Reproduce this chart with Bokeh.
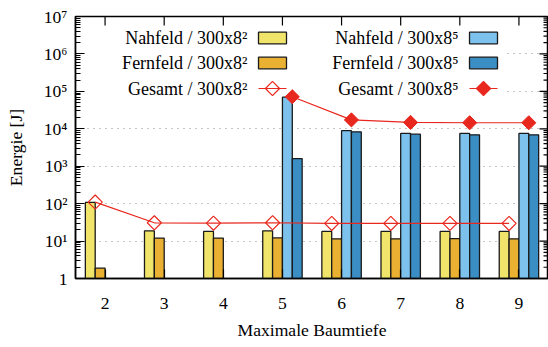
import math
from bokeh.plotting import figure
from bokeh.models import (ColumnDataSource, Range1d, LinearScale, FixedTicker,
                          BoxAnnotation, Title)
from bokeh.transform import dodge
from bokeh.core.properties import value
from bokeh.embed import file_html
from bokeh.resources import INLINE

# ---------------- data ----------------
cats_all = [2, 3, 4, 5, 6, 7, 8, 9]
nah_82 = [108, 18.8, 18.1, 18.8, 18.1, 18.1, 18.1, 18.1]
fern_82 = [1.9, 12.0, 12.0, 12.1, 11.5, 11.5, 11.6, 11.5]
ges_82 = [110, 30.8, 30.1, 30.9, 29.6, 29.6, 29.7, 29.6]

cats_85 = [5, 6, 7, 8, 9]
nah_85 = [70000, 8900, 7500, 7500, 7500]
fern_85 = [1600, 8300, 7200, 6900, 6900]
ges_85 = [72000, 17300, 14800, 14500, 14500]

y_ticks = [1, 10, 100, 1000, 10000, 100000, 1000000, 10000000]
y_tick_labels = ["1", "10¹", "10²", "10³", "10⁴", "10⁵", "10⁶", "10⁷"]
minor_mult = [2, 3, 4, 5, 6, 7, 8, 9]

legend_col1 = ["Nahfeld / 300x8²", "Fernfeld / 300x8²", "Gesamt / 300x8²"]
legend_col2 = ["Nahfeld / 300x8⁵", "Fernfeld / 300x8⁵", "Gesamt / 300x8⁵"]

x_label = "Maximale Baumtiefe"
y_label = "Energie [J]"

# ---------------- style ----------------
FONT = "Liberation Serif"
FS = "17.6px"
C_YEL = "#f0e46a"
C_ORA = "#e9b032"
C_LBL = "#7cc2ec"
C_DBL = "#3a8ec4"
C_RED = "#e8281e"
EDGE = "#1a1a1a"
W = 1.0 / 6.0
FRAME_W, FRAME_H = 473, 262

p = figure(width=548, height=347, x_range=Range1d(1.5, 9.5),
           y_range=Range1d(1, 1e7), y_axis_type="log",
           output_backend="svg", toolbar_location=None,
           min_border_left=75, min_border_right=0,
           min_border_top=16, min_border_bottom=69)
p.outline_line_color = "black"
p.outline_line_width = 1.5
p.background_fill_color = "white"
p.border_fill_color = "white"

# grid
p.xgrid.visible = False
p.ygrid.ticker = FixedTicker(ticks=y_ticks[1:-1])
p.ygrid.grid_line_color = "#8a8a8a"
p.ygrid.grid_line_dash = "1 5"
p.ygrid.grid_line_width = 1

# pixel-space ranges (frame pixels, origin top-left) for the key and frame ticks
p.extra_x_ranges = {"px": Range1d(0, FRAME_W)}
p.extra_y_ranges = {"px": Range1d(FRAME_H, 0)}
p.extra_x_scales = {"px": LinearScale()}
p.extra_y_scales = {"px": LinearScale()}

key_bg = BoxAnnotation(left=1, right=430, top=2, bottom=79,
                       x_range_name="px", y_range_name="px",
                       fill_color="white", fill_alpha=1.0, line_color=None,
                       level="underlay")
p.add_layout(key_bg)

src82 = ColumnDataSource(dict(x=cats_all, n=nah_82, f=fern_82, g=ges_82))
src85 = ColumnDataSource(dict(x=cats_85, n=nah_85, f=fern_85, g=ges_85))

bar_kw = dict(width=W, bottom=1, line_color=EDGE, line_width=1.3)
p.vbar(x=dodge("x", -1.5 * W), top="n", source=src82, fill_color=C_YEL, **bar_kw)
p.vbar(x=dodge("x", -0.5 * W), top="f", source=src82, fill_color=C_ORA, **bar_kw)
p.vbar(x=dodge("x", 0.5 * W), top="n", source=src85, fill_color=C_LBL, **bar_kw)
p.vbar(x=dodge("x", 1.5 * W), top="f", source=src85, fill_color=C_DBL, **bar_kw)

p.line(x=dodge("x", -W), y="g", source=src82, line_color=C_RED, line_width=1.2)
p.scatter(x=dodge("x", -W), y="g", source=src82, marker="square",
          angle=math.pi / 4, size=10, fill_color=None, line_color=C_RED,
          line_width=1.2)
p.line(x=dodge("x", W), y="g", source=src85, line_color=C_RED, line_width=1.2)
p.scatter(x=dodge("x", W), y="g", source=src85, marker="square",
          angle=math.pi / 4, size=10, fill_color=C_RED, line_color=C_RED)

# ---------------- key (symbol to the right of the text) ----------------
rows_y = [21.5, 46.5, 72.0]
cols = [dict(tx=172, sl=183, sr=211, labels=legend_col1,
             fills=[C_YEL, C_ORA], filled=False),
        dict(tx=383, sl=394, sr=422, labels=legend_col2,
             fills=[C_LBL, C_DBL], filled=True)]
for c in cols:
    p.text(x=[c["tx"]] * 3, y=rows_y, text=c["labels"], x_range_name="px",
           y_range_name="px", text_align="right", text_baseline="middle",
           text_font=value(FONT), text_font_size="18px", text_color="black")
    p.quad(left=[c["sl"]] * 2, right=[c["sr"]] * 2,
           top=[rows_y[0] - 5.8, rows_y[1] - 5.8],
           bottom=[rows_y[0] + 5.8, rows_y[1] + 5.8],
           fill_color=c["fills"], line_color=EDGE, line_width=1.3,
           x_range_name="px", y_range_name="px")
    p.line(x=[c["sl"], c["sr"]], y=[rows_y[2]] * 2, line_color=C_RED,
           line_width=1.2, x_range_name="px", y_range_name="px")
    p.scatter(x=[(c["sl"] + c["sr"]) / 2], y=[rows_y[2]], marker="square",
              angle=math.pi / 4, size=10,
              fill_color=C_RED if c["filled"] else None,
              line_color=C_RED, line_width=1.2,
              x_range_name="px", y_range_name="px")

# ---------------- axes ----------------
minor = [k * 10 ** e for e in range(0, 7) for k in minor_mult]
yt = FixedTicker(ticks=y_ticks, minor_ticks=minor)
xt = FixedTicker(ticks=cats_all, minor_ticks=[])


def style_axis(ax):
    ax.axis_line_color = "black"
    ax.axis_line_width = 1.5
    ax.major_tick_in = 9
    ax.major_tick_out = 0
    ax.minor_tick_in = 5
    ax.minor_tick_out = 0
    ax.major_tick_line_color = "black"
    ax.minor_tick_line_color = "black"
    ax.major_tick_line_width = 1.2
    ax.minor_tick_line_width = 1.2
    ax.major_label_text_font = FONT
    ax.major_label_text_font_size = FS
    ax.major_label_text_color = "black"
    ax.axis_label_text_font = FONT
    ax.axis_label_text_font_size = FS
    ax.axis_label_text_font_style = "normal"
    ax.axis_label_text_color = "black"


yax = p.yaxis[0]
yax.ticker = yt
yax.major_label_overrides = dict(zip(y_ticks, y_tick_labels))
yax.major_label_standoff = 8
yax.axis_label = y_label
yax.axis_label_standoff = 15
style_axis(yax)

xax = p.xaxis[0]
xax.ticker = xt
xax.major_label_standoff = 19
style_axis(xax)

# x-axis title below the tick labels
p.add_layout(Title(text=x_label, align="center", text_font=FONT,
                   text_font_size=FS, text_font_style="normal",
                   text_color="black", standoff=13), "below")

# inward ticks on the top and right frame edges (same tick values)
tick_kw = dict(line_color="black", line_width=1.2)
p.segment(x0=cats_all, x1=cats_all, y0=[0] * len(cats_all),
          y1=[9] * len(cats_all), y_range_name="px", **tick_kw)
p.segment(x0=[FRAME_W - 9] * len(y_ticks), x1=[FRAME_W] * len(y_ticks),
          y0=y_ticks, y1=y_ticks, x_range_name="px", **tick_kw)
p.segment(x0=[FRAME_W - 5] * len(minor), x1=[FRAME_W] * len(minor),
          y0=minor, y1=minor, x_range_name="px", **tick_kw)

open("out.html", "w").write(file_html(p, INLINE))
